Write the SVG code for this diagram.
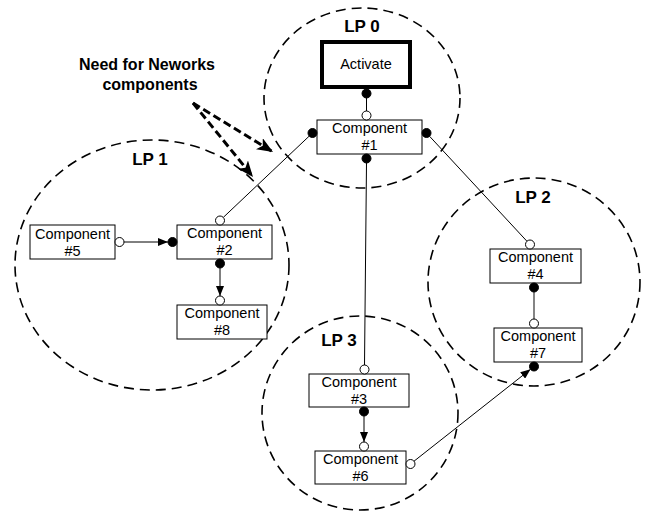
<svg xmlns="http://www.w3.org/2000/svg" width="650" height="515" viewBox="0 0 650 515">
  <style>
    .lp { fill: none; stroke: #000; stroke-width: 1.6; stroke-dasharray: 10 6; }
    .lpl { font-family: "Liberation Sans", Arial, sans-serif; font-weight: bold; font-size: 17px; text-anchor: middle; fill: #000; }
    .box { fill: #fff; stroke: #000; stroke-width: 1; }
    .act { fill: #fff; stroke: #000; stroke-width: 4; }
    .t { font-family: "Liberation Sans", Arial, sans-serif; font-size: 14.5px; text-anchor: middle; fill: #000; }
    .note { font-family: "Liberation Sans", Arial, sans-serif; font-weight: bold; font-size: 16px; text-anchor: middle; fill: #000; }
    .open { fill: #fff; stroke: #000; stroke-width: 1; }
    .full { fill: #000; stroke: #000; stroke-width: 1; }
    .ln { stroke: #000; stroke-width: 1; fill: none; }
    .gray { stroke: #666; stroke-width: 1.6; fill: none; }
    .need { stroke: #000; stroke-width: 3; stroke-dasharray: 8 4; fill: none; }
  </style>
  <defs>
    <marker id="arr" markerUnits="userSpaceOnUse" markerWidth="10" markerHeight="8" refX="10" refY="4" orient="auto">
      <path d="M0,0 L10,4 L0,8 z" fill="#000"/>
    </marker>
    <marker id="bigArr" markerUnits="userSpaceOnUse" markerWidth="16" markerHeight="13" refX="16" refY="6.5" orient="auto">
      <path d="M0,0 L16,6.5 L0,13 L4,6.5 z" fill="#000"/>
    </marker>
  </defs>

  <rect width="650" height="515" fill="#fff"/>

  <!-- logical processes -->
  <g id="lp0"><ellipse class="lp" cx="362" cy="98" rx="98" ry="90"/><text class="lpl" x="362" y="32">LP 0</text></g>
  <g id="lp1"><ellipse class="lp" cx="152" cy="265" rx="137" ry="125"/><text class="lpl" x="150" y="165">LP 1</text></g>
  <g id="lp2"><ellipse class="lp" cx="534" cy="282" rx="106" ry="104"/><text class="lpl" x="533" y="203">LP 2</text></g>
  <g id="lp3"><ellipse class="lp" cx="360" cy="413" rx="98" ry="97"/><text class="lpl" x="339" y="346">LP 3</text></g>

  <!-- annotation -->
  <g id="note">
    <text class="note" x="147" y="70">Need for Neworks</text>
    <text class="note" x="150" y="90">components</text>
  </g>

  <!-- connectors -->
  <g id="connectors">
    <line class="need" x1="193" y1="103" x2="273" y2="152" marker-end="url(#bigArr)"/>
    <line class="need" x1="193" y1="103" x2="253" y2="177" marker-end="url(#bigArr)"/>
    <line class="ln" x1="366.5" y1="98" x2="366.5" y2="111"/>
    <line class="ln" x1="309.2" y1="136.1" x2="223.3" y2="217.4"/>
    <line class="ln" x1="429.6" y1="136.3" x2="526.9" y2="241.2"/>
    <line class="ln" x1="366.5" y1="163" x2="364.5" y2="365"/>
    <line class="ln" x1="124" y1="242" x2="168" y2="242" marker-end="url(#arr)"/>
    <line class="ln" x1="220" y1="268" x2="220" y2="296" marker-end="url(#arr)"/>
    <line class="gray" x1="534" y1="292" x2="534" y2="319"/>
    <line class="ln" x1="364" y1="416" x2="364" y2="442" marker-end="url(#arr)"/>
    <line class="ln" x1="414" y1="461.2" x2="530.5" y2="369.3" marker-end="url(#arr)"/>
  </g>

  <!-- components -->
  <g id="activate">
    <rect class="act" x="322" y="42" width="88" height="45"/>
    <text class="t" x="366" y="69" font-size="14">Activate</text>
    <circle class="full" cx="366.5" cy="93.5" r="4.5"/>
  </g>
  <g id="c1">
    <rect class="box" x="317" y="120" width="105" height="34"/>
    <text class="t" x="369.5" y="133">Component</text>
    <text class="t" x="369.5" y="150">#1</text>
    <circle class="open" cx="366.5" cy="115.5" r="4.5"/>
    <circle class="full" cx="312.5" cy="133" r="4.5"/>
    <circle class="full" cx="426.5" cy="133" r="4.5"/>
    <circle class="full" cx="366.5" cy="158.5" r="4.5"/>
  </g>
  <g id="c2">
    <rect class="box" x="177" y="225" width="95" height="34"/>
    <text class="t" x="224.5" y="238">Component</text>
    <text class="t" x="224.5" y="255">#2</text>
    <circle class="open" cx="220" cy="220.5" r="4.5"/>
    <circle class="full" cx="172.5" cy="242" r="4.5"/>
    <circle class="full" cx="220" cy="263.5" r="4.5"/>
  </g>
  <g id="c5">
    <rect class="box" x="30" y="225" width="85" height="34"/>
    <text class="t" x="72.5" y="239">Component</text>
    <text class="t" x="72.5" y="256">#5</text>
    <circle class="open" cx="119.5" cy="242" r="4.5"/>
  </g>
  <g id="c8">
    <rect class="box" x="177" y="305" width="90" height="34"/>
    <text class="t" x="222" y="318">Component</text>
    <text class="t" x="222" y="335">#8</text>
    <circle class="open" cx="220" cy="300.5" r="4.5"/>
  </g>
  <g id="c4">
    <rect class="box" x="490" y="249" width="91" height="34"/>
    <text class="t" x="535.5" y="262">Component</text>
    <text class="t" x="535.5" y="279">#4</text>
    <circle class="open" cx="530" cy="244.5" r="4.5"/>
    <circle class="full" cx="534" cy="287.5" r="4.5"/>
  </g>
  <g id="c7">
    <rect class="box" x="494" y="328" width="88" height="34"/>
    <text class="t" x="538" y="341">Component</text>
    <text class="t" x="538" y="358">#7</text>
    <circle class="open" cx="534" cy="323.5" r="4.5"/>
    <circle class="full" cx="534" cy="366.5" r="4.5"/>
  </g>
  <g id="c3">
    <rect class="box" x="309" y="374" width="100" height="33"/>
    <text class="t" x="359" y="387">Component</text>
    <text class="t" x="359" y="404">#3</text>
    <circle class="open" cx="364.5" cy="369.5" r="4.5"/>
    <circle class="full" cx="364" cy="411.5" r="4.5"/>
  </g>
  <g id="c6">
    <rect class="box" x="315" y="451" width="91" height="33"/>
    <text class="t" x="360.5" y="464">Component</text>
    <text class="t" x="360.5" y="481">#6</text>
    <circle class="open" cx="364" cy="446.5" r="4.5"/>
    <circle class="open" cx="410.5" cy="464" r="4.5"/>
  </g>
</svg>
